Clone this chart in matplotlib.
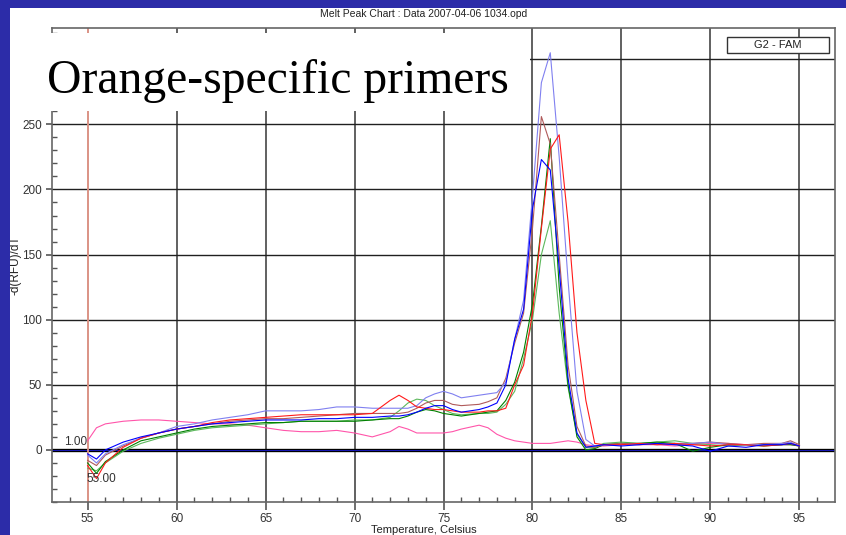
import matplotlib.pyplot as plt
from matplotlib.patches import Rectangle

# temperatures (Celsius) shared by all traces
temps = [55, 55.5, 56, 57, 58, 59, 60, 61, 62, 63, 64, 65, 66, 67, 68, 69, 70, 71, 72,
         72.5, 73, 73.5, 74, 74.5, 75, 75.5, 76, 77, 77.5, 78, 78.5, 79, 79.5, 80,
         80.5, 81, 81.5, 82, 82.5, 83, 83.5, 84, 85, 86, 87, 88, 89, 90, 91, 92, 93,
         94, 94.5, 95]

# -d(RFU)/dT for each well
purple = [-4, -10, -3, 4, 9, 13, 18, 20, 23, 25, 27, 30, 30, 30, 31, 33, 33, 32, 32,
          32, 32, 34, 40, 43, 45, 43, 40, 42, 43, 44, 52, 85, 115, 195,
          282, 305, 225, 130, 45, 8, 3, 4, 4, 5, 4, 5, 5, 6, 4, 4, 4, 5, 6, 3]
blue = [-3, -7, 0, 6, 10, 13, 16, 18, 20, 21, 22, 23, 23, 23, 24, 24, 25, 25, 26,
        26, 27, 29, 32, 34, 34, 31, 29, 31, 33, 36, 50, 85, 108, 185,
        223, 215, 140, 55, 13, 2, 3, 4, 3, 4, 5, 4, 3, -1, 3, 2, 4, 4, 5, 3]
brown = [-8, -12, -4, 3, 9, 13, 16, 18, 20, 22, 23, 24, 24, 25, 26, 27, 28, 28, 28,
         28, 29, 32, 36, 38, 38, 35, 34, 35, 37, 40, 55, 82, 105, 170,
         256, 235, 150, 65, 18, 3, 2, 4, 5, 4, 5, 4, 5, 6, 5, 4, 5, 5, 7, 4]
red = [-12, -22, -10, 2, 9, 13, 16, 18, 21, 23, 24, 25, 26, 27, 27, 27, 27, 28, 38,
       42, 38, 33, 32, 31, 31, 30, 29, 29, 30, 30, 32, 50, 65, 105,
       170, 231, 242, 175, 90, 38, 5, 4, 4, 5, 4, 5, 4, 3, 4, 4, 3, 4, 5, 3]
green = [-10, -18, -9, 0, 7, 10, 13, 16, 18, 19, 20, 21, 21, 22, 22, 22, 22, 23, 24,
         24, 26, 29, 31, 30, 28, 27, 26, 28, 29, 30, 38, 52, 75, 112,
         172, 239, 125, 50, 10, 0, 1, 4, 5, 5, 6, 5, -1, 2, 4, 4, 3, 4, 4, 3]
light_green = [-14, -16, -10, -1, 5, 9, 12, 15, 17, 18, 19, 20, 21, 22, 22, 22, 23, 23, 25,
               30, 36, 39, 38, 34, 31, 28, 27, 28, 28, 29, 35, 45, 70, 100,
               150, 176, 105, 48, 12, 2, 2, 5, 6, 5, 6, 7, 5, 4, 3, 4, 4, 4, 5, 3]
pink = [7, 17, 20, 22, 23, 23, 22, 21, 20, 20, 19, 17, 15, 14, 14, 15, 13, 10, 14,
        18, 16, 13, 13, 13, 13, 14, 16, 19, 17, 12, 9, 7, 6, 5,
        5, 5, 6, 7, 6, 4, 3, 3, 4, 4, 4, 3, 4, 5, 5, 4, 4, 4, 4, 3]

series = [(pink, '#ff55aa'), (light_green, '#5cb85c'), (green, '#008000'),
          (brown, '#b05a5a'), (purple, '#8080f0'), (red, '#ff1a1a'), (blue, '#0000ff')]

W, H = 846, 535
def fx(px):
    return px / W
def fy(py):
    return 1 - py / H

fig = plt.figure(figsize=(W / 100, H / 100), dpi=100)
fig.patch.set_facecolor('#2c2ca8')
fig.patches.append(Rectangle((fx(10), 0), 1 - fx(10), 1 - 8 / H, transform=fig.transFigure,
                             facecolor='white', edgecolor='none', zorder=-1))

ax = fig.add_axes([fx(52), fy(502), (835 - 52) / W, (502 - 28) / H])
ax.set_xlim(53, 97)
ax.set_ylim(-40, 324)
ax.set_xticks(range(55, 96, 5))
ax.set_xticks(range(54, 97), minor=True)
ax.set_yticks(range(0, 301, 50))
ax.set_yticks(range(-40, 321, 10), minor=True)
ax.tick_params(which='major', direction='out', width=1.2, color='#555555',
               labelsize=8.5, labelcolor='#333333')
ax.tick_params(axis='x', which='major', length=5.8, pad=2)
ax.tick_params(axis='y', which='major', length=4.3, pad=2.8)
ax.tick_params(which='minor', direction='in', length=3.8, width=1.0, color='#555555')
for lab in ax.get_xticklabels() + ax.get_yticklabels():
    lab.set_family('Liberation Sans')
ax.grid(which='major', axis='x', color='#606060', lw=1.4)
ax.grid(which='major', axis='y', color='#202020', lw=1.0)
for s in ax.spines.values():
    s.set_color('#666666')
    s.set_linewidth(1.2)

ax.axhline(0, color='black', lw=2.4, zorder=2)
ax.axhline(0, color='#2020ff', lw=0.5, zorder=2)
ax.axvline(55, color='#f4a090', lw=1.2, zorder=2)

for vals, col in series:
    ax.plot(temps, vals, color=col, lw=0.8, zorder=3)

ax.text(54.95, 6, '1.00', ha='right', va='center', fontsize=8.5, color='#333333',
        family='Liberation Sans', zorder=4)
ax.text(54.95, -22, '55.00', ha='left', va='center', fontsize=8.5, color='#333333',
        family='Liberation Sans', zorder=4)

# header and axis titles
fig.text(fx(424), fy(14), 'Melt Peak Chart : Data 2007-04-06 1034.opd', ha='center',
         va='center', fontsize=7.5, color='#222222', family='Liberation Sans')
fig.text(fx(424), fy(530), 'Temperature, Celsius', ha='center', va='center',
         fontsize=8, color='#222222', family='Liberation Sans')
fig.text(fx(15), fy(265), '-d(RFU)/dT', ha='center', va='center', rotation=90,
         fontsize=8.5, color='#222222', family='Liberation Sans')

# legend box
fig.patches.append(Rectangle((fx(727), fy(53)), 102 / W, 16 / H, transform=fig.transFigure,
                             facecolor='white', edgecolor='#333333', lw=1.0, zorder=5))
fig.text(fx(778), fy(45), 'G2 - FAM', ha='center', va='center', fontsize=8,
         color='#222222', family='Liberation Sans', zorder=6)

# slide caption over the chart
fig.patches.append(Rectangle((fx(10), fy(111)), (530 - 10) / W, (111 - 33) / H,
                             transform=fig.transFigure, facecolor='white',
                             edgecolor='none', zorder=5))
fig.text(fx(47), fy(93), 'Orange-specific primers', ha='left', va='baseline',
         fontsize=34.3, color='black', family='Liberation Serif', zorder=6)

# blue slide border on top of everything
fig.patches.append(Rectangle((0, 0), fx(10), 1, transform=fig.transFigure,
                             facecolor='#2c2ca8', edgecolor='none', zorder=10))
fig.patches.append(Rectangle((0, 1 - 8 / H), 1, 8 / H, transform=fig.transFigure,
                             facecolor='#2c2ca8', edgecolor='none', zorder=10))

fig.savefig('out.png', dpi=100)
